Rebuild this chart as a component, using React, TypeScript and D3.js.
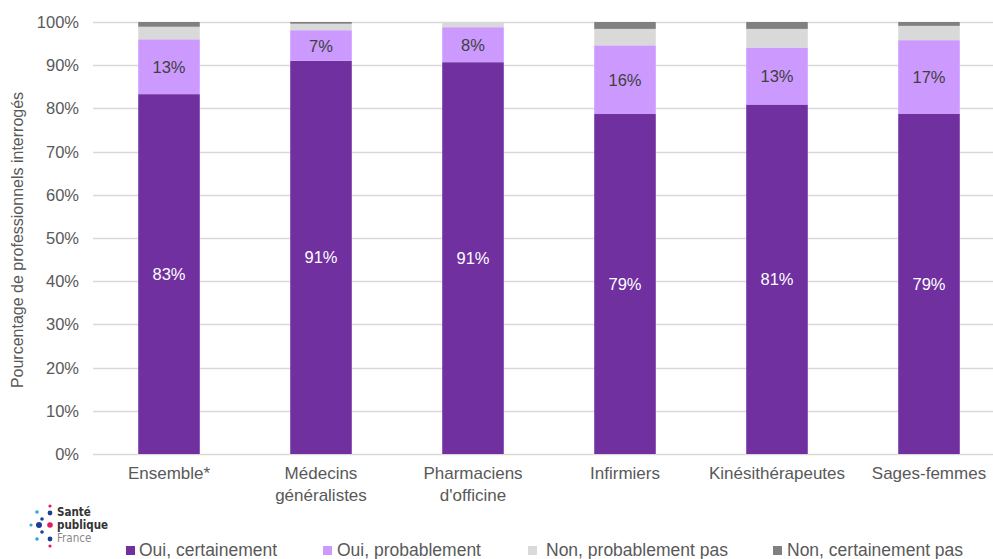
import { useRef, useEffect } from "react";
import * as d3 from "d3";

const categories = [
  ["Ensemble*"],
  ["Médecins", "généralistes"],
  ["Pharmaciens", "d'officine"],
  ["Infirmiers"],
  ["Kinésithérapeutes"],
  ["Sages-femmes"],
];
const seriesNames = ["Oui, certainement", "Oui, probablement", "Non, probablement pas", "Non, certainement pas"];
const ouiCertainement = [83.3, 91.0, 90.7, 78.7, 80.9, 78.8];
const ouiProbablement = [12.7, 7.1, 8.1, 15.9, 13.2, 17.0];
const nonProbablement = [2.9, 1.5, 1.2, 3.8, 4.3, 3.3];
const nonCertainement = [1.1, 0.4, 0.0, 1.6, 1.6, 0.9];
const labelsCertainement = ["83%", "91%", "91%", "79%", "81%", "79%"];
const labelsProbablement = ["13%", "7%", "8%", "16%", "13%", "17%"];
const yTicks = [0, 10, 20, 30, 40, 50, 60, 70, 80, 90, 100];

const colors = ["#7030A0", "#CC99FF", "#D9D9D9", "#808080"];
const textColor = "#595959";
const font = "'Liberation Sans', Arial, sans-serif";

const App = () => {
  const svgRef = useRef<SVGSVGElement | null>(null);

  useEffect(() => {
    document.body.style.margin = "0";
    if (!svgRef.current) return;
    const svg = d3.select(svgRef.current);
    svg.selectAll("*").remove();

    const left = 93, right = 1005, top = 22, bottom = 454;
    const keys = categories.map((c) => c.join(" "));
    const x = d3.scaleBand().domain(keys).range([left, right]).paddingInner(0.595).paddingOuter(0.2975);
    const y = d3.scaleLinear().domain([0, 100]).range([bottom, top]);

    const rows = keys.map((k, i) => ({
      key: k,
      s0: ouiCertainement[i],
      s1: ouiProbablement[i],
      s2: nonProbablement[i],
      s3: nonCertainement[i],
    }));
    const stacked = d3.stack<any>().keys(["s0", "s1", "s2", "s3"])(rows);

    // grille
    svg.append("g")
      .selectAll("line")
      .data(yTicks)
      .enter()
      .append("line")
      .attr("x1", left)
      .attr("x2", 993)
      .attr("y1", (d) => Math.round(y(d)) + 0.5)
      .attr("y2", (d) => Math.round(y(d)) + 0.5)
      .attr("stroke", "#D9D9D9")
      .attr("stroke-width", 1.3);

    svg.append("g")
      .selectAll("text")
      .data(yTicks)
      .enter()
      .append("text")
      .attr("x", 79)
      .attr("y", (d) => y(d) + 6)
      .attr("text-anchor", "end")
      .attr("font-family", font)
      .attr("font-size", 16.5)
      .attr("fill", textColor)
      .text((d) => `${d}%`);

    svg.append("text")
      .attr("transform", `translate(23,${(top + bottom) / 2 + 2}) rotate(-90)`)
      .attr("text-anchor", "middle")
      .attr("font-family", font)
      .attr("font-size", 16)
      .attr("fill", textColor)
      .text("Pourcentage de professionnels interrogés");

    // barres
    stacked.forEach((layer, li) => {
      svg.append("g")
        .selectAll("rect")
        .data(layer)
        .enter()
        .append("rect")
        .attr("x", (d: any) => x(d.data.key)!)
        .attr("width", x.bandwidth())
        .attr("y", (d) => y(d[1]))
        .attr("height", (d) => y(d[0]) - y(d[1]))
        .attr("fill", colors[li]);
    });

    // étiquettes de valeurs
    const lbl = (layer: any, labels: string[], fill: string) => {
      svg.append("g")
        .selectAll("text")
        .data(layer)
        .enter()
        .append("text")
        .attr("x", (d: any) => x(d.data.key)! + x.bandwidth() / 2)
        .attr("y", (d: any) => y((d[0] + d[1]) / 2) + 6)
        .attr("text-anchor", "middle")
        .attr("font-family", font)
        .attr("font-size", 16.5)
        .attr("fill", fill)
        .text((_d: any, i: number) => labels[i]);
    };
    lbl(stacked[0], labelsCertainement, "#FFFFFF");
    lbl(stacked[1], labelsProbablement, "#404040");

    // catégories
    categories.forEach((lines, i) => {
      const cx = x(keys[i])! + x.bandwidth() / 2;
      const t = svg.append("text")
        .attr("x", cx)
        .attr("y", 479)
        .attr("text-anchor", "middle")
        .attr("font-family", font)
        .attr("font-size", 17)
        .attr("fill", textColor);
      lines.forEach((l, j) => {
        t.append("tspan")
          .attr("x", cx)
          .attr("dy", j === 0 ? 0 : 21.5)
          .text(l);
      });
    });

    // légende
    const legendX = [126, 323, 528, 773];
    const textX = [139, 337, 546, 787];
    seriesNames.forEach((name, i) => {
      svg.append("rect")
        .attr("x", legendX[i])
        .attr("y", 546)
        .attr("width", 9)
        .attr("height", 9)
        .attr("fill", colors[i]);
      svg.append("text")
        .attr("x", textX[i])
        .attr("y", 555.5)
        .attr("font-family", font)
        .attr("font-size", 17.5)
        .attr("fill", textColor)
        .text(name);
    });

    // logo
    const dots = [
      [50, 506, 1.6, "#E6195A"],
      [37, 512, 1.8, "#2EA8E0"],
      [50, 513, 2.4, "#1C3F94"],
      [42, 519, 1.8, "#1C3F94"],
      [31, 525, 1.6, "#2EA8E0"],
      [39, 525, 3.0, "#1C3F94"],
      [50, 525, 2.8, "#E6195A"],
      [42, 532, 1.8, "#1C3F94"],
      [37, 539, 1.8, "#2EA8E0"],
      [50, 539, 2.4, "#1C3F94"],
      [50, 546, 1.6, "#E6195A"],
    ] as [number, number, number, string][];
    svg.append("g")
      .selectAll("circle")
      .data(dots)
      .enter()
      .append("circle")
      .attr("cx", (d) => d[0])
      .attr("cy", (d) => d[1])
      .attr("r", (d) => d[2])
      .attr("fill", (d) => d[3]);
    const logoText = [["Santé", 516, "bold"], ["publique", 529, "bold"], ["France", 542, "normal"]];
    logoText.forEach(([t, yy, w]) => {
      svg.append("text")
        .attr("x", 57)
        .attr("y", yy as number)
        .attr("font-family", "'DejaVu Sans Condensed', 'Liberation Sans Narrow', sans-serif")
        .attr("font-size", 11.5)
        .attr("font-weight", w as string)
        .attr("fill", w === "bold" ? "#333333" : "#888888")
        .text(t as string);
    });
  }, []);

  return (
    <svg
      ref={svgRef}
      width={993}
      height={559}
      style={{ position: "absolute", left: 0, top: 0, background: "#FFFFFF" }}
    ></svg>
  );
};

export default App;
